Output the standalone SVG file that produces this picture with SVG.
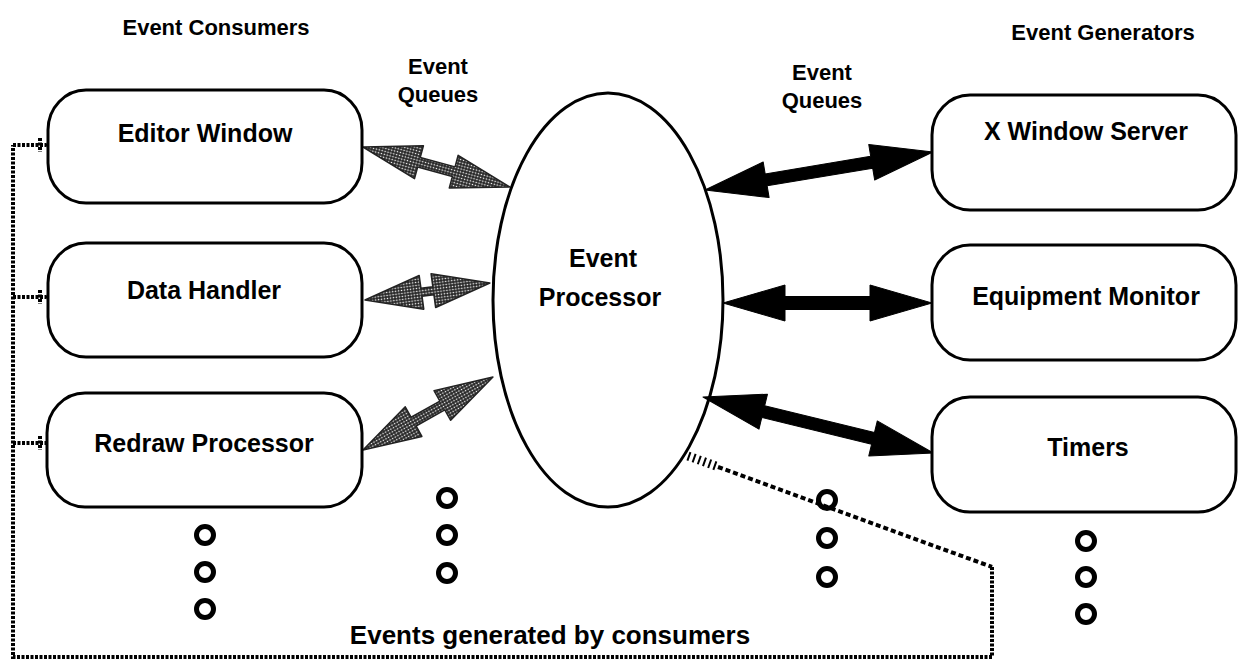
<svg xmlns="http://www.w3.org/2000/svg" width="1239" height="665" viewBox="0 0 1239 665">
<style>
text{font-family:"Liberation Sans",Arial,Helvetica,sans-serif;fill:#000;font-weight:bold;text-anchor:middle}
.lbl{font-size:22px}
.big{font-size:26px}
.nt{font-size:25px}
.box{fill:#fff;stroke:#000;stroke-width:3}
.grey{fill:url(#stip);stroke:#222;stroke-width:1.5;stroke-linejoin:round}
.blk{fill:#000;stroke:#000;stroke-width:1;stroke-linejoin:round}
.dot{fill:none;stroke:#000;stroke-width:4;stroke-dasharray:3 1.5}
.dotd{fill:none;stroke:#000;stroke-width:4;stroke-dasharray:5 3}
.ring{fill:none;stroke:#000;stroke-width:5}
</style>
<defs>
<pattern id="stip" width="3" height="3" patternUnits="userSpaceOnUse">
<rect width="3" height="3" fill="#2a2a2a"/>
<circle cx="1.5" cy="1.5" r="0.8" fill="#fff"/>
</pattern>
</defs>
<rect width="1239" height="665" fill="#fff"/>

<g id="labels">
<text class="lbl" x="216" y="35">Event Consumers</text>
<text class="lbl" x="1103" y="40">Event Generators</text>
<text class="lbl" x="438" y="74">Event</text>
<text class="lbl" x="438" y="102">Queues</text>
<text class="lbl" x="822" y="80">Event</text>
<text class="lbl" x="822" y="108">Queues</text>
<text class="big" x="550" y="644">Events generated by consumers</text>
</g>

<g id="connectors">
<path class="grey" transform="translate(363,147) rotate(15.22)" d="M0,0 L58,-17 L58,-5 L94,-5 L94,-17 L152,0 L94,17 L94,5 L58,5 L58,17 Z"/>
<path class="grey" transform="translate(365,300) rotate(-7.74)" d="M0,0 L57,-17 L57,-4 L69,-4 L69,-17 L126,0 L69,17 L69,4 L57,4 L57,17 Z"/>
<path class="grey" transform="translate(363,450) rotate(-29.3)" d="M0,0 L58,-17 L58,-5 L91,-5 L91,-17 L149,0 L91,17 L91,5 L58,5 L58,17 Z"/>
<path class="blk" transform="translate(705,190) rotate(-9.46)" d="M0,0 L62,-18 L62,-6 L169,-6 L169,-18 L231,0 L169,18 L169,6 L62,6 L62,18 Z"/>
<path class="blk" transform="translate(723,303)" d="M0,0 L62,-18 L62,-6.5 L147,-6.5 L147,-18 L209,0 L147,18 L147,6.5 L62,6.5 L62,18 Z"/>
<path class="blk" transform="translate(703,397) rotate(13.68)" d="M0,0 L62,-18 L62,-6 L175,-6 L175,-18 L237,0 L175,18 L175,6 L62,6 L62,18 Z"/>
<path d="M688,456 L716,466" fill="none" stroke="#000" stroke-width="9" stroke-dasharray="2 3.5"/>
<path class="dotd" d="M718,467 L992,567"/>
<path class="dot" d="M992,567 L992,657 L13,657 L13,145"/>
<path class="dot" d="M13,145 L46,145 M13,297 L46,297 M13,443 L46,443"/>
<path class="dot" d="M40,138 L40,152 M40,290 L40,304 M40,436 L40,450" stroke-width="3"/>
<circle cx="49" cy="145" r="2.3" fill="#fff" stroke="#000" stroke-width="1.5"/>
<circle cx="49" cy="297" r="2.3" fill="#fff" stroke="#000" stroke-width="1.5"/>
<circle cx="49" cy="443" r="2.3" fill="#fff" stroke="#000" stroke-width="1.5"/>
</g>

<g id="editor-window"><rect class="box" x="48" y="90" width="314" height="113" rx="38" ry="40"/><text class="nt" x="205" y="142">Editor Window</text></g>
<g id="data-handler"><rect class="box" x="48" y="243" width="314" height="114" rx="38" ry="40"/><text class="nt" x="204" y="299">Data Handler</text></g>
<g id="redraw-processor"><rect class="box" x="47" y="393" width="315" height="114" rx="38" ry="40"/><text class="nt" x="204" y="452">Redraw Processor</text></g>

<g id="event-processor"><ellipse cx="608" cy="300" rx="115" ry="207" fill="none" stroke="#000" stroke-width="3"/><text class="nt" x="603" y="267">Event</text><text class="nt" x="600" y="306">Processor</text></g>

<g id="x-window-server"><rect class="box" x="932" y="95" width="304" height="115" rx="38" ry="40"/><text class="nt" x="1086" y="140">X Window Server</text></g>
<g id="equipment-monitor"><rect class="box" x="932" y="245" width="304" height="115" rx="38" ry="40"/><text class="nt" x="1086" y="305">Equipment Monitor</text></g>
<g id="timers"><rect class="box" x="932" y="397" width="304" height="115" rx="38" ry="40"/><text class="nt" x="1088" y="456">Timers</text></g>

<g id="ellipsis-dots">
<circle class="ring" cx="205" cy="535" r="8.5"/><circle class="ring" cx="205" cy="572" r="8.5"/><circle class="ring" cx="205" cy="609" r="8.5"/>
<circle class="ring" cx="447" cy="498" r="8.5"/><circle class="ring" cx="447" cy="535" r="8.5"/><circle class="ring" cx="447" cy="573" r="8.5"/>
<circle class="ring" cx="827" cy="500" r="8.5"/><circle class="ring" cx="827" cy="538" r="8.5"/><circle class="ring" cx="827" cy="577" r="8.5"/>
<circle class="ring" cx="1086" cy="541" r="8.5"/><circle class="ring" cx="1086" cy="577" r="8.5"/><circle class="ring" cx="1086" cy="614" r="8.5"/>
</g>
</svg>
